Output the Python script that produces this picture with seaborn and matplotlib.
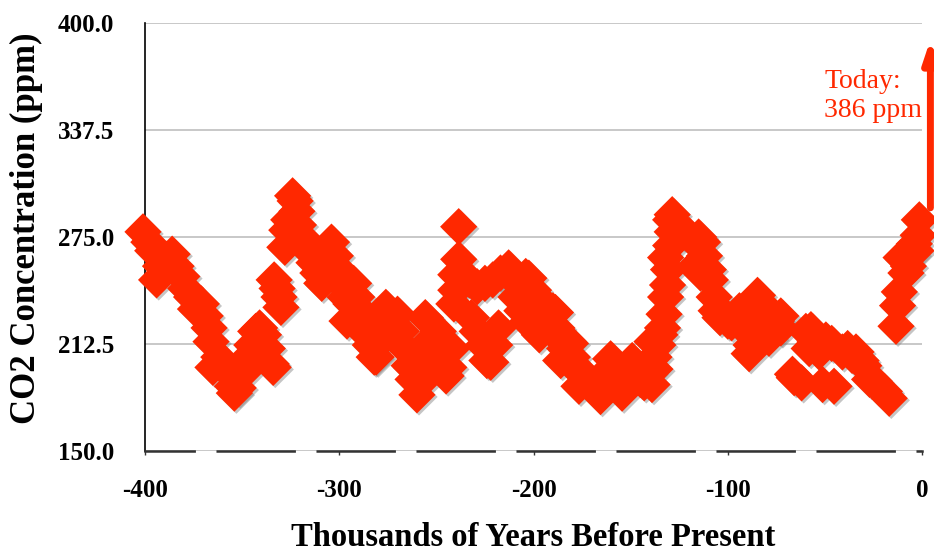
import matplotlib
matplotlib.use('Agg')
import matplotlib.pyplot as plt
import matplotlib.patheffects as pe
import seaborn as sns
import pandas as pd

# Vostok ice core CO2
age = [-401, -398, -396, -394, -392, -389, -386, -384, -381, -379, -376, -374, -371, -369,
       -367, -366, -365, -362, -360, -357, -355, -354, -352,
       -349, -347, -345, -343, -341, -339, -337, -335, -334,
       -333.5, -332, -331, -330, -328, -327, -326, -324, -322.7, -321.8, -321,
       -319, -317, -315, -313, -311, -309, -307, -304, -302, -300, -299, -297, -296, -294,
       -292.6, -291, -289, -288, -286, -284, -282, -281, -278, -276, -274, -272,
       -270, -268, -266, -264, -262, -260, -258, -256, -255.7, -254, -252, -250, -249,
       -247, -245, -243.6, -242,
       -241, -240, -240, -238.5, -238.5, -236, -233, -229, -225, -221, -217, -212.8,
       -232, -229, -226, -224, -222, -220, -218, -210, -209, -207, -206,
       -204, -203, -202.4, -200, -200, -198, -197, -196, -194, -192, -190, -188.7, -188, -186, -186,
       -184, -182, -181, -180, -178, -176.6, -174, -172, -170, -168, -165.5, -163, -161,
       -160.3, -158, -156, -154.4, -152, -150, -149.2, -147, -145, -143, -141, -139,
       -139, -138, -137.5, -136, -135, -133.6, -132.8, -132, -131, -132, -130.5, -129.4,
       -128.6, -129.4, -128.6, -126,
       -123, -120, -117, -115, -113, -112, -110, -109, -117, -114, -107, -106, -104, -102,
       -100, -98, -96, -94, -92, -90, -89, -88, -86.5, -84.7, -84, -82, -80, -78.8, -77,
       -75, -72.7, -72.7,
       -66.7, -65.8, -62, -59.8, -57.2, -58.1, -55, -53, -51.2, -49.5, -46.5, -45.3, -41,
       -38.3, -36, -34, -31.4, -30, -27, -24.6, -22, -19.4, -16.9,
       -13.4, -12.6, -11.7, -10.8, -8.3, -7, -5.5, -4, -3.1, -2, -1.4]

co2 = [278, 272, 267, 250, 258, 262, 265, 258, 252, 245, 240, 233, 236, 229,
       222, 214, 199, 205, 200, 196, 188, 184, 187,
       196, 205, 212, 220, 222, 218, 210, 201, 199,
       250, 245, 240, 234, 269, 279, 285, 299, 296, 290, 282,
       275, 270, 266, 260, 254, 248, 262, 272, 264, 256, 248, 240, 226, 236,
       248, 240, 232, 224, 218, 212, 205, 205, 215, 234, 228, 222,
       230, 220, 210, 200, 192, 183, 190, 198, 228, 214, 206, 212, 220,
       200, 194, 199, 210,
       236, 244, 253, 262, 281, 250, 250, 246, 248, 250, 254, 257,
       228, 220, 212, 203, 202, 212, 222, 250, 240, 248, 232,
       252, 226, 251, 244, 222, 240, 218, 236, 232, 230, 232, 231, 222, 215, 203,
       210, 214, 213, 205, 198, 188, 195, 192, 188, 186, 182, 190, 198,
       204, 198, 190, 184, 193, 200, 203, 196, 192, 190, 196, 189,
       214, 205, 198, 212, 218, 222, 230, 240, 247, 263, 256, 270,
       278, 285, 288, 282,
       278, 276, 272, 275, 272, 264, 256, 250, 258, 254, 240, 232, 228, 230,
       226, 225, 228, 232, 226, 220, 207, 212, 216, 241, 236, 232, 228, 216, 230,
       226, 229, 222,
       195, 193, 190, 220, 221, 210, 214, 208, 189, 215, 213, 188, 208,
       210, 206, 208, 203, 200, 192, 191, 187, 185, 181,
       223, 235, 243, 263, 254, 258, 265, 271, 267, 276, 285]

ytick_vals = [150.0, 212.5, 275.0, 337.5, 400.0]
xtick_vals = [-400, -300, -200, -100, 0]

red = '#ff2800'
df = pd.DataFrame({'age': age, 'co2': co2})

plt.rcParams['lines.scale_dashes'] = False
plt.rcParams['font.family'] = ['Liberation Serif', 'DejaVu Serif']

fig = plt.figure(figsize=(9.34, 5.56), dpi=100)
ax = fig.add_axes([0.1552, 0.188, 0.8320, 0.7715])

sns.scatterplot(data=df, x='age', y='co2', marker='D', s=360, color=red,
                edgecolor='none', linewidth=0, ax=ax, zorder=3, clip_on=False,
                path_effects=[pe.SimplePatchShadow(offset=(1.5, -1.5), shadow_rgbFace='gray', alpha=0.45),
                              pe.Normal()])

ax.set_xlim(-400, 0)
ax.set_ylim(150, 400)
ax.set_xticks(xtick_vals)
ax.set_xticklabels([str(v) for v in xtick_vals])
ax.set_yticks(ytick_vals)
ax.set_yticklabels(['%.1f' % v for v in ytick_vals])

ax.grid(axis='y', color='#bfbfbf', lw=1.2)
ax.set_axisbelow(True)
for s in ['top', 'right']:
    ax.spines[s].set_visible(False)
ax.spines['left'].set_color('black')
ax.spines['left'].set_linewidth(1.2)
ax.spines['bottom'].set_color('#333333')
ax.spines['bottom'].set_linewidth(1.8)
ax.spines['bottom'].set_linestyle((20, (55.4, 16.6)))

ax.tick_params(axis='y', length=0, pad=22, labelsize=18)
ax.tick_params(axis='x', length=3, width=1, pad=17, labelsize=18, color='#333333')
for lab in ax.get_xticklabels() + ax.get_yticklabels():
    lab.set_fontweight('bold')

ax.set_xlabel('Thousands of Years Before Present', fontsize=23.5, fontweight='bold')
ax.set_ylabel('CO2 Concentration (ppm)', fontsize=25, fontweight='bold')
ax.xaxis.set_label_coords(0.5, -0.164)
ax.yaxis.set_label_coords(-0.131, 0.52)

# today's value marker
ax.annotate('', xy=(4.3, 390), xytext=(4.3, 292), annotation_clip=False,
            arrowprops=dict(arrowstyle='-|>,head_width=0.3,head_length=0.9',
                            color=red, lw=5, mutation_scale=14, shrinkA=0, shrinkB=0))
ax.text(-50.3, 373, 'Today:\n386 ppm', color=red, fontsize=20, ha='left', va='top',
        linespacing=1.2)

fig.savefig('out.png', dpi=100)
